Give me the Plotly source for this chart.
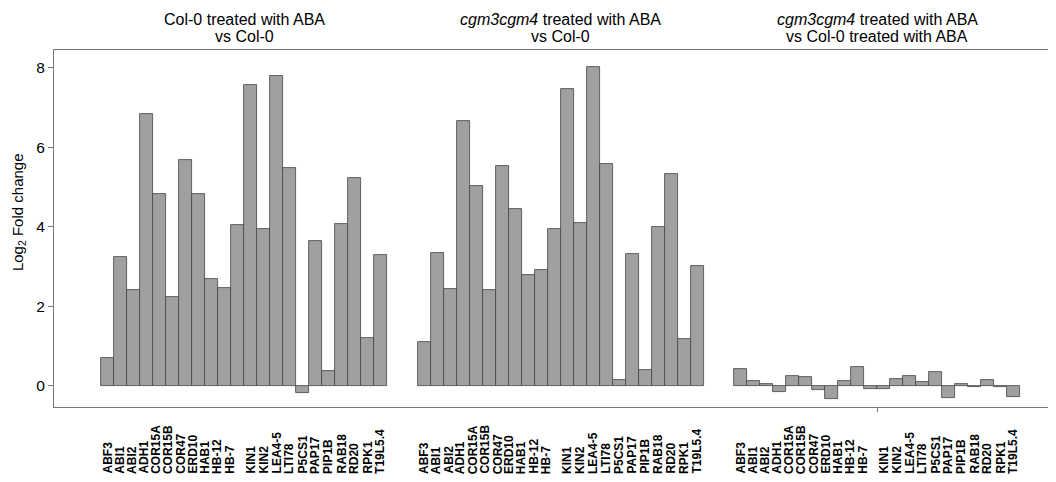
import plotly.graph_objects as go

genes = ["ABF3", "ABI1", "ABI2", "ADH1", "COR15A", "COR15B", "COR47", "ERD10",
         "HAB1", "HB-12", "HB-7", "KIN1", "KIN2", "LEA4-5", "LTI78", "P5CS1",
         "PAP17", "PIP1B", "RAB18", "RD20", "RPK1", "T19L5.4"]

col0_aba_vs_col0 = [0.69, 3.23, 2.41, 6.83, 4.82, 2.23, 5.67, 4.82, 2.68, 2.45, 4.04,
                    7.56, 3.93, 7.79, 5.48, -0.19, 3.63, 0.36, 4.06, 5.22, 1.21, 3.28]
cgm_aba_vs_col0 = [1.10, 3.33, 2.43, 6.66, 5.03, 2.41, 5.53, 4.45, 2.78, 2.91, 3.93,
                   7.46, 4.09, 8.01, 5.57, 0.14, 3.31, 0.39, 3.99, 5.32, 1.17, 3.00]
cgm_aba_vs_col0_aba = [0.41, 0.11, 0.04, -0.17, 0.24, 0.22, -0.11, -0.34, 0.11, 0.47, -0.08,
                       -0.08, 0.16, 0.24, 0.10, 0.34, -0.32, 0.035, -0.04, 0.14, -0.04, -0.29]

group_titles_line1 = [
    "Col-0 treated with ABA",
    "<i>cgm3cgm4</i> treated with ABA",
    "<i>cgm3cgm4</i> treated with ABA",
]
group_titles_line2 = [
    "vs Col-0",
    "vs Col-0",
    "vs Col-0 treated with ABA",
]
series = [col0_aba_vs_col0, cgm_aba_vs_col0, cgm_aba_vs_col0_aba]
y_ticks = [0, 2, 4, 6, 8]

GROUP_STEP = 24.35
n = len(genes)
FONT = "Liberation Sans, Arial, Helvetica"

fig = go.Figure()
annotations = []
for g, vals in enumerate(series):
    start = g * GROUP_STEP
    xs = [start + i + 0.5 for i in range(n)]
    fig.add_trace(go.Bar(
        x=xs, y=vals, width=1.0,
        marker=dict(color="#a0a0a0", line=dict(color="#444444", width=0.8)),
        hoverinfo="x+y", showlegend=False,
    ))
    for line_y, txt in ((1.0868, group_titles_line1[g]), (1.0392, group_titles_line2[g])):
        annotations.append(dict(
            x=start + n / 2, y=line_y, xref="x", yref="paper", yanchor="middle",
            text=txt, showarrow=False,
            font=dict(family=FONT, size=16, color="#000"),
        ))
    for i, name in enumerate(genes):
        if i < 11:
            lx = start + 0.5 + i * 0.94
        else:
            lx = xs[i]
        annotations.append(dict(
            x=lx, y=-0.193, xref="x", yref="paper", textangle=-90,
            xanchor="center", yanchor="bottom", text="<b>" + name + "</b>",
            showarrow=False,
            font=dict(family=FONT, size=12, color="#000"),
        ))

annotations.append(dict(
    x=-0.0359, y=0.546, xref="paper", yref="paper", textangle=-90,
    xanchor="center", yanchor="middle", text="Log<sub>2</sub> Fold change",
    showarrow=False, font=dict(family=FONT, size=15, color="#000"),
))

# page body has an 8px margin: compensate so the plot lands where the reference has it
fig.update_layout(
    width=1048, height=474,
    margin=dict(l=46, r=0, t=42, b=75),
    plot_bgcolor="white", paper_bgcolor="white",
    bargap=0,
    annotations=annotations,
    xaxis=dict(
        range=[-3.62, 73.46], showgrid=False, zeroline=False,
        showline=True, linecolor="#777", linewidth=1, mirror=True,
        tickvals=[2 * GROUP_STEP + 11], showticklabels=False, ticks="outside",
        ticklen=4, tickcolor="#777",
    ),
    yaxis=dict(
        range=[-0.536, 8.445], showgrid=False, zeroline=False,
        showline=True, linecolor="#777", linewidth=1,
        tickvals=y_ticks, ticks="outside", ticklen=5, tickcolor="#777",
        tickfont=dict(family=FONT, size=15.5, color="#000"),
    ),
)

fig.write_html("out.html")
